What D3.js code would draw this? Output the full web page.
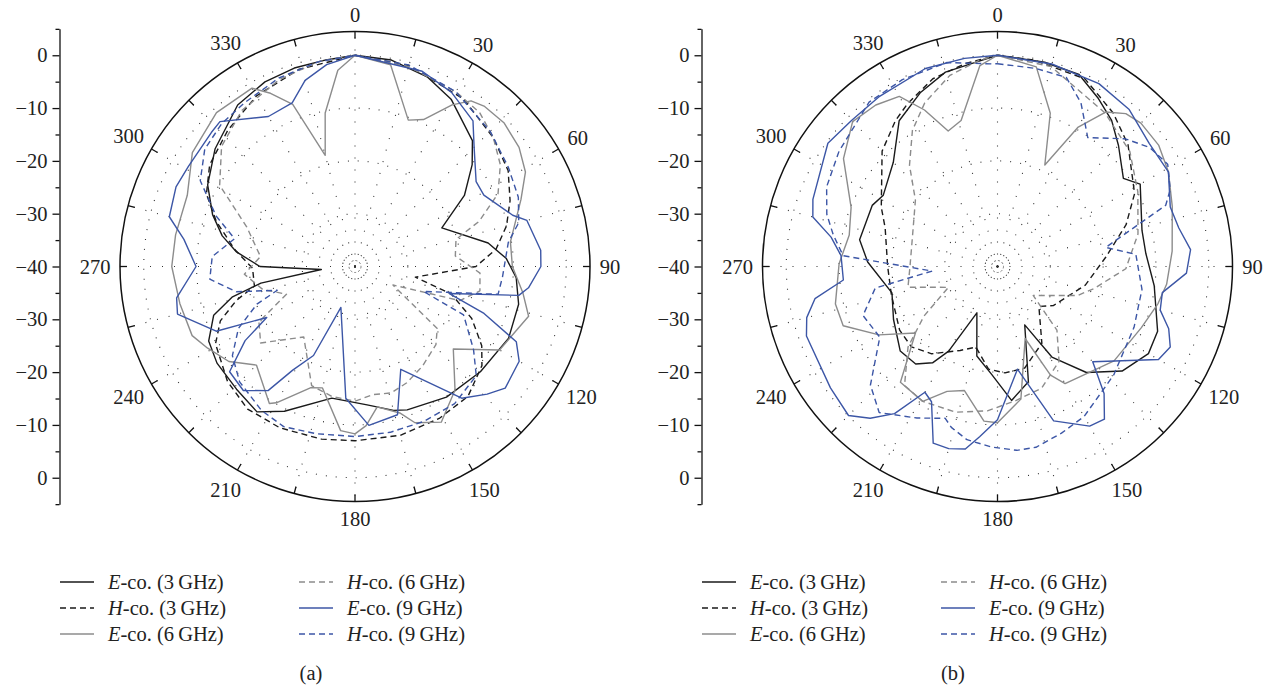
<!DOCTYPE html>
<html>
<head>
<meta charset="utf-8">
<script src="https://cdn.jsdelivr.net/npm/d3@7"></script>
<style>
  body { margin: 0; background: #fff; }
  svg text { font-family: "Liberation Serif", "DejaVu Serif", serif; fill: #222; }
</style>
</head>
<body>
<svg id="chart" width="1276" height="686"></svg>
<script>
// Radiation patterns, normalised gain in dB, as [angle (deg), dB] pairs

// legend / series descriptors
const seriesPol = ['E', 'H', 'E', 'H', 'E', 'H'];
const seriesFreq = [3, 3, 6, 6, 9, 9];

// panel (a)
const aE3 = [[0,0],[10,-0.3],[21,-1.6],[30,-3.5],[43,-7.4],[49,-10.6],[57,-15.3],[66,-22],[80,-14.4],[87,-11.3],[94,-9.4],[103,-8.2],[115,-7.9],[130,-9],[145,-9.8],[160,-11.1],[165,-11.8],[175,-13.7],[190,-14.7],[206,-9.5],[214,-6.8],[224,-7.7],[235,-8.1],[243,-8.9],[251,-11.7],[256,-16],[260,-21.9],[265,-33.6],[270,-22],[277,-17.4],[283,-14.2],[290,-11.3],[299,-8.1],[310,-5.4],[324,-2.2],[334,-1.1],[343,-0.7],[352,-0.5],[360,0]];
const aH3 = [[0,0],[15,-0.6],[33,-2.2],[47,-4.2],[58,-5.8],[67,-8.1],[75,-10.3],[83,-13.1],[90,-17.1],[100,-28.4],[106,-21],[114,-15.8],[122,-11.7],[128,-9.5],[139,-7.4],[151,-7.1],[165,-6.9],[180,-7],[191,-6.7],[205,-6.3],[217,-6.2],[228,-7.5],[241,-9.8],[248,-12.5],[254,-16.6],[259,-20.6],[269,-20.6],[278,-17],[288,-12.4],[296,-8.7],[305,-6.4],[317,-4.7],[330,-2.7],[344,-1.2],[360,0]];
const aE6 = [[0,0],[10,-1.2],[20,-10.5],[25,-9.3],[31,-4.3],[35,-1.7],[39,-1],[46,-0.8],[54,-1.6],[61,-3.1],[68,-6.1],[81,-10.2],[90,-10.2],[99,-7.8],[106,-5.8],[120,-8.4],[130,-15.7],[141,-9.9],[151,-6.3],[159,-8.3],[163,-11],[171,-13.1],[176,-9.8],[180,-8.3],[185,-8.8],[195,-16.2],[200,-15.6],[210,-10.2],[212,-9.4],[225,-13.6],[233,-10.1],[241,-8.1],[247,-6.5],[258,-6.1],[270,-5.3],[280,-5.5],[293,-5.5],[305,-2.4],[318,-0.8],[330,-1],[334,-3.5],[339,-7.1],[345,-18.2],[349,-10.4],[355,-2.7],[360,0]];
const aH6 = [[0,0],[15,-0.8],[30,-1.8],[39,-2.5],[47,-4.2],[55,-6.4],[63,-9.6],[70,-15],[75,-20.2],[84,-20.9],[93,-16.3],[101,-15.9],[108,-19.1],[116,-32],[127,-20.5],[134,-18.7],[146,-17.2],[156,-15.9],[164,-15.1],[172,-15.5],[180,-14.5],[190,-15],[200,-16],[216,-23.5],[231,-17],[240,-19],[248,-26],[256,-22],[266,-19],[276,-22],[290,-18.2],[301,-10.1],[312,-6],[324,-3.5],[338,-1.8],[350,-0.6],[360,0]];
const aE9 = [[0,0],[19,-0.9],[29,-2.3],[39,-4.5],[45,-8.1],[55,-12],[61,-12.1],[72,-8.6],[75,-6.3],[85,-4.7],[90,-4.8],[97,-6.9],[100,-8.5],[106,-21.4],[110,-14],[115,-6.3],[120,-4.1],[129,-3.4],[134,-5.2],[141,-7.9],[156,-18.7],[164,-10.8],[175,-9.8],[184,-15],[199,-31.8],[205,-21.4],[211,-17.1],[215,-11.3],[222,-8.4],[230,-9],[236,-14.9],[240,-20.7],[245,-11],[255,-5.2],[260,-5.7],[270,-9.9],[279,-7.2],[285,-3.6],[294,-2.9],[301,-3.2],[313,-2.8],[317,-2.5],[330,-7.2],[339,-6.8],[345,-3.5],[352,-1.4],[360,0]];
const aH9 = [[0,0],[15,-0.5],[30,-1.8],[45,-3.8],[57,-5.4],[67,-6.4],[75,-7.9],[81,-10.6],[94,-12],[101,-12.4],[110,-26.2],[114,-17.5],[125,-12.6],[132,-9.1],[144,-7.9],[156,-7.9],[168,-7.9],[180,-7.8],[193,-7.5],[204,-6.8],[213,-7.5],[225,-9.1],[234,-11.3],[242,-15],[249,-20.1],[253,-24.6],[258,-17],[265,-12.4],[274,-12.9],[283,-16.6],[290,-12],[299,-6.5],[308,-3.9],[317,-3],[326,-2.6],[338,-1.5],[350,-0.6],[360,0]];

// panel (b)
const bE3 = [[0,0],[13,-0.3],[23,-0.5],[31,-2.9],[38,-4.9],[45,-7.6],[55,-10.9],[60,-8.8],[76,-11.8],[85,-11.8],[97,-10.1],[112,-7.3],[120,-7],[130,-9.2],[140,-13.8],[149,-20],[155,-27.8],[165,-17.4],[174,-14.5],[183,-19.5],[193,-22.6],[204,-30.4],[210,-21.5],[214,-18],[220,-15.9],[229,-15.6],[243,-17.9],[256,-19.4],[272,-15.4],[281,-13.4],[296,-13.6],[302,-14.5],[315,-12.1],[326,-6.7],[336,-4],[345,-1.9],[354,-1.1],[360,0]];
const bH3 = [[0,0],[10,-0.3],[25,-0.8],[37,-3.6],[47,-6.2],[62,-10.6],[72,-14.4],[85,-19.4],[102,-23],[125,-27.1],[134,-29.1],[150,-23.2],[165,-20.1],[176,-19.8],[185,-20.5],[195,-24.2],[204,-22.6],[217,-19.3],[227,-17.7],[237,-17.9],[255,-19.2],[270,-19.2],[289,-17.5],[297,-15.3],[315,-9.1],[325,-6.3],[331,-4.8],[341,-2.4],[351,-1.1],[360,0]];
const bE6 = [[0,0],[11,-1.5],[19,-9.3],[25,-18.8],[30,-9.6],[35,-4.3],[40,-2.2],[45,-1.6],[53,-1.8],[61,-3],[71,-5],[85,-6.8],[96,-7.8],[103,-8.8],[113,-10.4],[129,-11.6],[150,-14.4],[154,-17.1],[159,-25.4],[170,-14.5],[180,-10.4],[185,-10.6],[195,-15.7],[202,-14.5],[209,-10.8],[220,-11.4],[231,-20],[240,-14.1],[249,-8.7],[257,-8.5],[271,-10],[282,-11.3],[292,-10.1],[305,-4.4],[315,-1.2],[323,-1.7],[330,-2.8],[335,-7.3],[340,-12.7],[346,-11.5],[355,-1.8],[360,0]];
const bH6 = [[0,0],[15,-0.8],[35,-4.5],[49,-6.8],[62,-9.9],[77,-12.7],[91,-15.7],[103,-21.3],[110,-23.9],[129,-31.3],[137,-23.5],[147,-18.6],[160,-15.5],[172,-14.4],[184,-12.6],[196,-11.3],[209,-10.8],[218,-11.4],[228,-17.2],[236,-23.2],[247,-29.9],[257,-22.6],[269,-23.4],[287,-23.1],[309,-20],[319,-14.6],[328,-9.6],[336,-6.1],[346,-2.7],[355,-0.8],[360,0]];
const bE9 = [[0,0],[15,-0.3],[29,-0.4],[40,-1.2],[51,-3],[61,-3],[71,-5.4],[78,-4.9],[85,-3.3],[92,-4.2],[99,-8.4],[105,-8.1],[110,-5.5],[115,-3.9],[120,-4.8],[135,-14.5],[140,-8.6],[145,-4.7],[150,-5.1],[160,-8.9],[169,-20.2],[180,-11],[186,-7.6],[190,-4.9],[195,-4.3],[200,-4.4],[206,-11.5],[210,-12.5],[215,-6],[220,-2.5],[225,-0.1],[234,-0.9],[250,-1.5],[255,-2.6],[260,-4.9],[265,-10.7],[274,-10.3],[280,-8],[285,-3.8],[290,-2.8],[306,-0.3],[315,-0.9],[325,-0.8],[340,-0.1],[351,-0.1],[360,0]];
const bH9 = [[0,-1.6],[11,-1.8],[20,-1.9],[27,-5.2],[35,-10.2],[45,-5.8],[52,-3.4],[59,-2.4],[66,-4.2],[70,-6.1],[80,-19.2],[85,-13.7],[99,-12.3],[114,-11.7],[133,-9.9],[150,-7.2],[159,-6.2],[168,-5],[174,-5],[182,-5.8],[190,-6.7],[196,-8.3],[199,-9.6],[208,-7.5],[219,-4.4],[227,-7.1],[239,-14],[250,-12.9],[260,-16.5],[266,-27.6],[274,-10.7],[281,-8.3],[287,-6.2],[295,-4.3],[306,-2.9],[322,-0.5],[333,-0.3],[346,-0.2],[358,-1.6],[360,-1.6]];

const panelA = [aE3, aH3, aE6, aH6, aE9, aH9];
const panelB = [bE3, bH3, bE6, bH6, bE9, bH9];

const angleTicks = d3.range(0, 360, 15);
const angleLabels = d3.range(0, 360, 30);
const dbMin = -40, dbOuter = 4.5;

// styling
const freqColor = { 3: '#1a1a1a', 6: '#8c8c8c', 9: '#3c56a6' };
const dashFor = pol => pol === 'H' ? '6,4' : null;

const svg = d3.select('#chart');
const R = 235;

function drawPanel(cx, cy, axisX, data, tag, legendX) {
    const g = svg.append('g');
    const r = d3.scaleLinear().domain([dbMin, dbOuter]).range([0, R]);
    const pxPerDb = R / (dbOuter - dbMin);

    // dotted grid rings
    g.selectAll('.ring')
        .data([-30, -20, -10, 0])
        .enter()
        .append('circle')
        .attr('cx', cx).attr('cy', cy)
        .attr('r', d => r(d))
        .attr('fill', 'none')
        .attr('stroke', '#333')
        .attr('stroke-width', 1.1)
        .attr('stroke-dasharray', '1,9');

    // dotted spokes
    g.selectAll('.spoke')
        .data(angleTicks)
        .enter()
        .append('line')
        .attr('x1', cx).attr('y1', cy)
        .attr('x2', d => cx + R * Math.sin(d * Math.PI / 180))
        .attr('y2', d => cy - R * Math.cos(d * Math.PI / 180))
        .attr('stroke', '#333')
        .attr('stroke-width', 1.1)
        .attr('stroke-dasharray', '1,11');

    g.append('circle')
        .attr('cx', cx).attr('cy', cy).attr('r', 6)
        .attr('fill', 'none')
        .attr('stroke', '#777')
        .attr('stroke-dasharray', '2,2');

    // outer circle + ticks
    g.append('circle')
        .attr('cx', cx).attr('cy', cy).attr('r', R)
        .attr('fill', 'none')
        .attr('stroke', '#111')
        .attr('stroke-width', 1.5);

    g.selectAll('.atick')
        .data(angleTicks)
        .enter()
        .append('line')
        .attr('x1', d => cx + R * Math.sin(d * Math.PI / 180))
        .attr('y1', d => cy - R * Math.cos(d * Math.PI / 180))
        .attr('x2', d => cx + (R - 7) * Math.sin(d * Math.PI / 180))
        .attr('y2', d => cy - (R - 7) * Math.cos(d * Math.PI / 180))
        .attr('stroke', '#111')
        .attr('stroke-width', 1.3);

    g.selectAll('.alabel')
        .data(angleLabels)
        .enter()
        .append('text')
        .attr('x', d => {
            const hw = String(d).length * 5;
            const dist = R + 10 + hw * Math.abs(Math.sin(d * Math.PI / 180)) + 7 * Math.abs(Math.cos(d * Math.PI / 180));
            return cx + dist * Math.sin(d * Math.PI / 180);
        })
        .attr('y', d => {
            const hw = String(d).length * 5;
            const dist = R + 10 + hw * Math.abs(Math.sin(d * Math.PI / 180)) + 7 * Math.abs(Math.cos(d * Math.PI / 180));
            return cy - dist * Math.cos(d * Math.PI / 180);
        })
        .attr('text-anchor', 'middle')
        .attr('dominant-baseline', 'central')
        .style('font-size', '20.5px')
        .text(d => d);

    // pattern curves
    const line = d3.lineRadial()
        .angle(d => d[0] * Math.PI / 180)
        .radius(d => r(d[1]));

    g.selectAll('.curve')
        .data(data)
        .enter()
        .append('path')
        .attr('transform', `translate(${cx},${cy})`)
        .attr('d', d => line(d))
        .attr('fill', 'none')
        .attr('stroke', (d, i) => freqColor[seriesFreq[i]])
        .attr('stroke-dasharray', (d, i) => dashFor(seriesPol[i]))
        .attr('stroke-width', 1.4)
        .attr('stroke-linejoin', 'round');

    // symmetric dB axis on the left
    const y = d3.scaleLinear().domain([45, -45]).range([cy - 45 * pxPerDb, cy + 45 * pxPerDb]);
    const fmt = d => { const v = Math.abs(d) - 40; return v < 0 ? '\u2212' + Math.abs(v) : String(v); };

    const ax = svg.append('g').attr('transform', `translate(${axisX},0)`);
    ax.call(d3.axisLeft(y).tickValues(d3.range(-40, 41, 10)).tickFormat(fmt).tickSize(7).tickSizeOuter(0));
    ax.append('g').call(d3.axisLeft(y).tickValues([-45, -35, -25, -15, -5, 5, 15, 25, 35, 45]).tickFormat('').tickSize(4).tickSizeOuter(0))
        .select('.domain').remove();
    ax.selectAll('path, line').attr('stroke', '#111').attr('stroke-width', 1.3);
    ax.selectAll('text')
        .style('font-size', '20.5px')
        .style('font-family', '"Liberation Serif", serif')
        .attr('fill', '#222')
        .attr('x', -12);

    // legend
    const leg = svg.append('g');
    const rowY = [582, 608, 634];
    const colX = [legendX, legendX + 239];
    seriesPol.forEach((pol, i) => {
        const col = Math.floor(i / 3), row = i % 3;
        const lx = colX[col], ly = rowY[row];
        leg.append('line')
            .attr('x1', lx).attr('x2', lx + 34)
            .attr('y1', ly).attr('y2', ly)
            .attr('stroke', freqColor[seriesFreq[i]])
            .attr('stroke-width', 1.4)
            .attr('stroke-dasharray', dashFor(pol));
        const t = leg.append('text')
            .attr('x', lx + 48).attr('y', ly)
            .attr('dominant-baseline', 'central')
            .style('font-size', '20.5px');
        t.append('tspan').style('font-style', 'italic').text(pol);
        t.append('tspan').text(`-co. (${seriesFreq[i]}\u2009GHz)`);
    });

    svg.append('text')
        .attr('x', legendX + 251).attr('y', 673)
        .attr('text-anchor', 'middle')
        .attr('dominant-baseline', 'central')
        .style('font-size', '20.5px')
        .text(tag);
}

drawPanel(355, 266.5, 59.5, panelA, '(a)', 60);
drawPanel(997.5, 266.5, 701.5, panelB, '(b)', 702);
</script>
</body>
</html>
